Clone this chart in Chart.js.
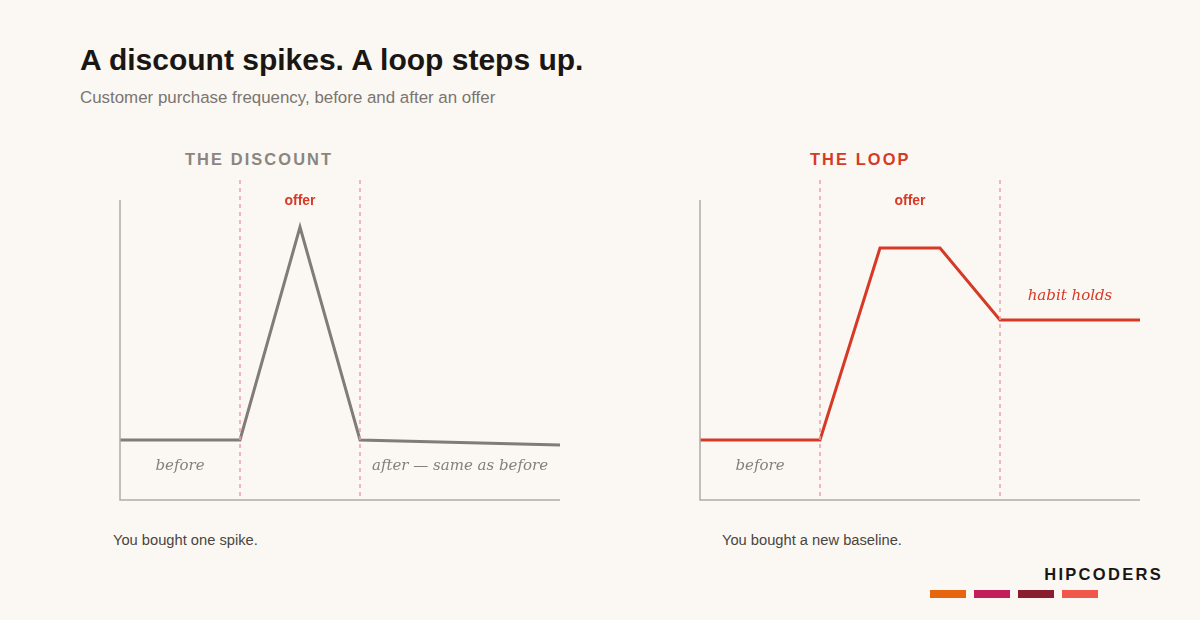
<!DOCTYPE html>
<html>
<head>
<meta charset="utf-8">
<script src="https://cdn.jsdelivr.net/npm/chart.js@4.4.1/dist/chart.umd.min.js"></script>
<style>
  html, body { margin: 0; padding: 0; }
  body {
    width: 1200px; height: 620px; position: relative; overflow: hidden;
    background: #fbf8f3; font-family: "Liberation Sans", Arial, sans-serif;
  }
  .abs { position: absolute; white-space: nowrap; }
  #title { left: 80px; top: 41px; line-height: 38px; font-size: 30px; font-weight: bold; color: #1a1614; }
  #subtitle { left: 80px; top: 88px; line-height: 20px; font-size: 16.9px; color: #7a7570; }
  .panel { top: 149px; line-height: 20px; font-size: 16.4px; font-weight: bold; letter-spacing: 2.1px; }
  .caption { top: 530px; line-height: 20px; font-size: 14.7px; color: #4a4540; }
  #brand { right: 37px; top: 564px; line-height: 20px; font-size: 16.5px; font-weight: bold; letter-spacing: 2.3px; color: #1a1614; }
  .bar { position: absolute; top: 590px; width: 36px; height: 8px; }
  canvas { position: absolute; }
</style>
</head>
<body>
<div id="title" class="abs">A discount spikes. A loop steps up.</div>
<div id="subtitle" class="abs">Customer purchase frequency, before and after an offer</div>

<div class="abs panel" style="left:185px; color:#8a8580;">THE DISCOUNT</div>
<div class="abs panel" style="left:810px; color:#d63a26;">THE LOOP</div>

<div style="position:absolute; left:100px; top:170px; width:480px; height:350px;">
  <canvas id="discount"></canvas>
</div>
<div style="position:absolute; left:680px; top:170px; width:480px; height:350px;">
  <canvas id="loop"></canvas>
</div>

<div class="abs caption" style="left:113px;">You bought one spike.</div>
<div class="abs caption" style="left:722px;">You bought a new baseline.</div>

<div id="brand" class="abs">HIPCODERS</div>
<div class="bar" style="left:930px; background:#e8650f;"></div>
<div class="bar" style="left:974px; background:#c41e5a;"></div>
<div class="bar" style="left:1018px; background:#8b1e2e;"></div>
<div class="bar" style="left:1062px; background:#f0564a;"></div>

<script>
// time steps (x) and purchase frequency (y), 0-100
const discountX = [0, 6, 9, 12, 22];
const discountY = [20, 20, 91, 20, 18.3];
const discountMarks = [6, 12];

const loopX = [0, 6, 9, 12, 15, 22];
const loopY = [20, 20, 84, 84, 60, 60];
const loopMarks = [6, 15];

const GREY = '#817c77';
const RED = '#d63a26';

const annotate = {
    id: 'annotate',
    afterDatasetsDraw(chart, args, opts) {
        const ctx = chart.ctx;
        const area = chart.chartArea;
        const x = chart.scales.x;
        const y = chart.scales.y;
        ctx.save();

        // axes
        ctx.strokeStyle = '#b0aba6';
        ctx.lineWidth = 1.5;
        ctx.beginPath();
        ctx.moveTo(area.left, area.top);
        ctx.lineTo(area.left, area.bottom);
        ctx.lineTo(area.right, area.bottom);
        ctx.stroke();

        // offer window
        ctx.strokeStyle = '#e6a3aa';
        ctx.lineWidth = 1.5;
        ctx.setLineDash([4, 4]);
        opts.marks.forEach(m => {
            const px = Math.round(x.getPixelForValue(m));
            ctx.beginPath();
            ctx.moveTo(px, area.top - 20);
            ctx.lineTo(px, area.bottom);
            ctx.stroke();
        });
        ctx.setLineDash([]);

        ctx.textAlign = 'center';
        ctx.textBaseline = 'middle';
        ctx.fillStyle = RED;
        ctx.font = 'bold 14px "Liberation Sans", Arial, sans-serif';
        const mid = (opts.marks[0] + opts.marks[1]) / 2;
        ctx.fillText('offer', x.getPixelForValue(mid), area.top + 1.5);

        ctx.font = 'italic 15px "DejaVu Serif", serif';
        opts.labels.forEach(l => {
            ctx.fillStyle = l.color;
            ctx.fillText(l.text, x.getPixelForValue(l.x), y.getPixelForValue(l.y));
        });
        ctx.restore();
    }
};

function makeChart(id, xs, ys, color, marks, labels) {
    return new Chart(document.getElementById(id), {
        type: 'line',
        plugins: [annotate],
        data: {
            datasets: [{
                data: xs.map((v, i) => ({ x: v, y: ys[i] })),
                borderColor: color,
                borderWidth: 3,
                pointRadius: 0,
                tension: 0,
                clip: false
            }]
        },
        options: {
            animation: false,
            responsive: true,
            maintainAspectRatio: false,
            layout: { padding: { left: 20, right: 20, top: 30, bottom: 20 } },
            plugins: {
                legend: { display: false },
                tooltip: { enabled: false },
                annotate: { marks: marks, labels: labels }
            },
            scales: {
                x: { type: 'linear', min: 0, max: 22, display: false },
                y: { min: 0, max: 100, display: false }
            }
        }
    });
}

makeChart('discount', discountX, discountY, GREY, discountMarks, [
    { text: 'before', x: 3, y: 11.2, color: '#858079' },
    { text: 'after \u2014 same as before', x: 17, y: 11.2, color: '#858079' }
]);
makeChart('loop', loopX, loopY, RED, loopMarks, [
    { text: 'before', x: 3, y: 11.2, color: '#858079' },
    { text: 'habit holds', x: 18.5, y: 68.0, color: RED }
]);
</script>
</body>
</html>
